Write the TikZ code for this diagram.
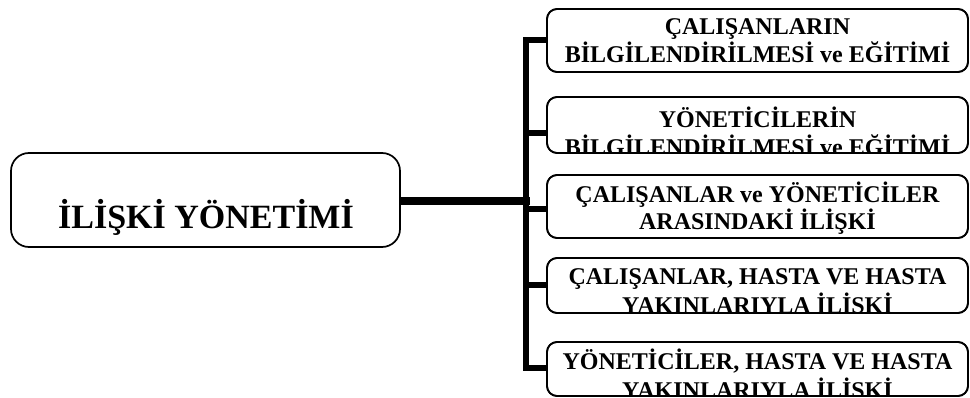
\documentclass[tikz,border=0pt]{standalone}
\usepackage{fontspec}
\setmainfont{Liberation Serif}
\begin{document}
\begin{tikzpicture}[x=1pt,y=-1pt,
  box/.style={draw, line width=1.7pt, rounded corners=10pt, fill=white, minimum width=421pt, inner sep=0pt, outer sep=0pt},
  border/.style={draw, line width=1.7pt, rounded corners=10pt},
  lbl/.style={anchor=base, inner sep=0pt, font=\fontsize{24}{28}\selectfont\bfseries},
  conn/.style={line width=6pt, line join=miter}]
\useasboundingbox (0,0) rectangle (970,398);

% main box
\node[draw, line width=1.7pt, rounded corners=18pt, minimum width=389pt, minimum height=94pt, inner sep=0pt, outer sep=0pt] (m) at (205.5,200) {};
\node[anchor=base, inner sep=0pt, font=\fontsize{34}{40}\selectfont\bfseries] (mt) at (206,229) {İLİŞKİ YÖNETİMİ};

% branch boxes
\node[box, minimum height=63pt] (b1) at (757.5,40.5) {};
\node[box, minimum height=56pt] (b2) at (757.5,125) {};
\node[box, minimum height=63pt] (b3) at (757.5,206.5) {};
\node[box, minimum height=55pt] (b4) at (757.5,285.5) {};
\node[box, minimum height=54pt] (b5) at (757.5,369) {};

\begin{scope}
\clip[rounded corners=10pt] (b1.south west) rectangle (b1.north east);
\node[lbl] (t1a) at (757.5,35) {ÇALIŞANLARIN};
\node[lbl] (t1b) at (757.5,63) {BİLGİLENDİRİLMESİ ve EĞİTİMİ};
\end{scope}
\begin{scope}
\clip[rounded corners=10pt] (b2.south west) rectangle (b2.north east);
\node[lbl] (t2a) at (757.5,128) {YÖNETİCİLERİN};
\node[lbl] (t2b) at (757.5,156) {BİLGİLENDİRİLMESİ ve EĞİTİMİ};
\end{scope}
\begin{scope}
\clip[rounded corners=10pt] (b3.south west) rectangle (b3.north east);
\node[lbl] (t3a) at (757.5,203) {ÇALIŞANLAR ve YÖNETİCİLER};
\node[lbl] (t3b) at (757.5,230) {ARASINDAKİ İLİŞKİ};
\end{scope}
\begin{scope}
\clip[rounded corners=10pt] (b4.south west) rectangle (b4.north east);
\node[lbl] (t4a) at (757.5,285) {ÇALIŞANLAR, HASTA VE HASTA};
\node[lbl] (t4b) at (757.5,313) {YAKINLARIYLA İLİŞKİ};
\end{scope}
\begin{scope}
\clip[rounded corners=10pt] (b5.south west) rectangle (b5.north east);
\node[lbl] (t5a) at (757.5,370) {YÖNETİCİLER, HASTA VE HASTA};
\node[lbl] (t5b) at (757.5,398) {YAKINLARIYLA İLİŞKİ};
\end{scope}
\foreach \b in {b1,b2,b3,b4,b5}{
  \draw[border] (\b.south west) rectangle (\b.north east);
}

% connectors
\coordinate (j1) at (526,40);
\coordinate (j2) at (526,133);
\coordinate (j3) at (526,209);
\coordinate (j4) at (526,285);
\coordinate (j5) at (526,368);
\coordinate (jm) at (526,201);
\draw[conn, line width=8pt] (m.east |- jm) -- ([xshift=3.5pt]jm);
\draw[conn, line width=6.5pt] (b1.west |- j1) -- (j1) -- (j5) -- (b5.west |- j5);
\draw[conn, line width=5.5pt] (j2) -- (b2.west |- j2);
\draw[conn, line width=5.5pt] (j3) -- (b3.west |- j3);
\draw[conn, line width=5.5pt] (j4) -- (b4.west |- j4);
\end{tikzpicture}
\end{document}
